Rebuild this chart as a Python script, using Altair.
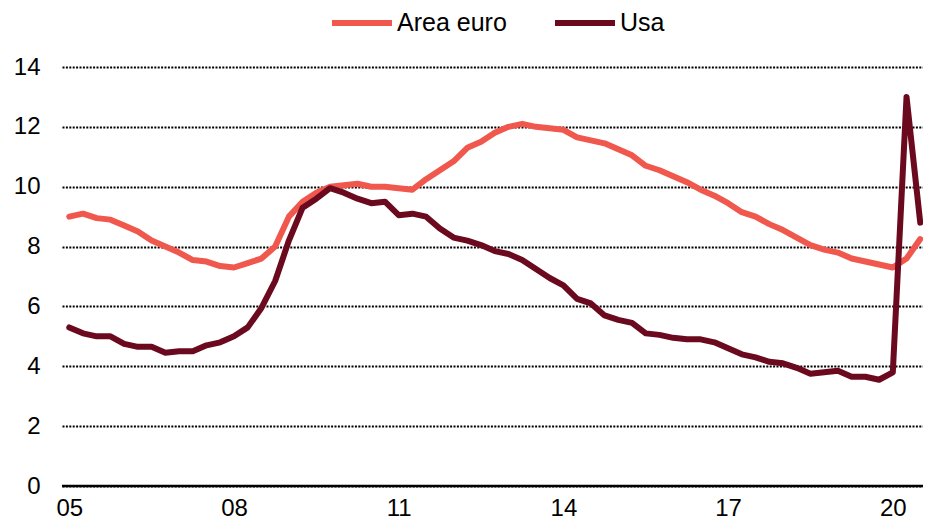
import json
import altair as alt
import pandas as pd

# Quarterly data, 2005Q1 .. 2020Q3 (unemployment rate, %)
quarters = [f"{y}Q{q}" for y in range(2005, 2021) for q in range(1, 5)][:63]

euro = [9.0, 9.1, 8.95, 8.9, 8.7, 8.5, 8.2, 8.0, 7.8, 7.55,
        7.5, 7.35, 7.3, 7.45, 7.6, 8.0, 9.0, 9.5, 9.8, 10.0,
        10.05, 10.1, 10.0, 10.0, 9.95, 9.9, 10.25, 10.55, 10.85, 11.3,
        11.5, 11.8, 12.0, 12.1, 12.0, 11.95, 11.9, 11.65, 11.55, 11.45,
        11.25, 11.05, 10.7, 10.55, 10.35, 10.15, 9.9, 9.7, 9.45, 9.15,
        9.0, 8.75, 8.55, 8.3, 8.05, 7.9, 7.8, 7.6, 7.5, 7.4,
        7.3, 7.6, 8.25]

usa = [5.3, 5.1, 5.0, 5.0, 4.75, 4.65, 4.65, 4.45, 4.5, 4.5,
       4.7, 4.8, 5.0, 5.3, 5.95, 6.85, 8.2, 9.3, 9.6, 9.95,
       9.8, 9.6, 9.45, 9.5, 9.05, 9.1, 9.0, 8.6, 8.3, 8.2,
       8.05, 7.85, 7.75, 7.55, 7.25, 6.95, 6.7, 6.25, 6.1, 5.7,
       5.55, 5.45, 5.1, 5.05, 4.95, 4.9, 4.9, 4.8, 4.6, 4.4,
       4.3, 4.15, 4.1, 3.95, 3.75, 3.8, 3.85, 3.65, 3.65, 3.55,
       3.8, 13.0, 8.8]

series_names = ["Area euro", "Usa"]
series_colors = ["#F0584D", "#6B0A1E"]

x_tick_values = [0, 12, 24, 36, 48, 60]
x_tick_labels = ["05", "08", "11", "14", "17", "20"]
y_ticks = [0, 2, 4, 6, 8, 10, 12, 14]

rows = []
for i, q in enumerate(quarters):
    rows.append({"idx": i, "quarter": q, "series": series_names[0], "value": euro[i], "order": 0})
    rows.append({"idx": i, "quarter": q, "series": series_names[1], "value": usa[i], "order": 1})
df = pd.DataFrame(rows)

label_expr = json.dumps(x_tick_labels) + "[round(datum.value / 12)]"
FONT = "Liberation Sans"

x_scale = alt.Scale(domain=[-0.53, 62.2], nice=False, zero=False)
y_scale = alt.Scale(domain=[0, 14], nice=False)

y_axis = alt.Axis(values=y_ticks, grid=True, gridColor="black", gridDash=[2, 1.4],
                  gridWidth=2, domain=False, ticks=False, tickSize=0,
                  labelPadding=22, labelFontSize=24, labelFont=FONT,
                  labelColor="black", title=None)

lines = alt.Chart(df).mark_line(strokeWidth=6, strokeCap="round", strokeJoin="round").encode(
    x=alt.X("idx:Q", scale=x_scale,
            axis=alt.Axis(values=x_tick_values, labelExpr=label_expr, grid=False,
                          domain=False, ticks=False, tickSize=0, labelPadding=10,
                          labelFontSize=24, labelFont=FONT, labelColor="black",
                          labelFlush=False, labelOverlap=False, title=None)),
    y=alt.Y("value:Q", scale=y_scale, axis=y_axis),
    color=alt.Color("series:N",
                    scale=alt.Scale(domain=series_names, range=series_colors),
                    legend=alt.Legend(title=None, orient="none", direction="horizontal",
                                      legendX=267, legendY=-77,
                                      symbolType="stroke", symbolSize=3600,
                                      symbolStrokeWidth=6, labelFontSize=25,
                                      labelFont=FONT, labelColor="black",
                                      labelOffset=2, columnPadding=36, padding=0)),
    order=alt.Order("order:Q"),
    detail="series:N",
)

zero_df = pd.DataFrame({"y": [0]})
zero_line = alt.Chart(zero_df).mark_rule(color="black", strokeWidth=2.5).encode(
    y=alt.Y("y:Q", scale=y_scale, axis=y_axis)
)

chart = alt.layer(zero_line, lines).properties(
    width=861,
    height=419,
    autosize="none",
    padding={"left": 54, "top": 59, "right": 0, "bottom": 34},
).configure(background="white").configure_view(stroke=None)

chart.save("out.html", embed_options={"renderer": "svg", "actions": False})
